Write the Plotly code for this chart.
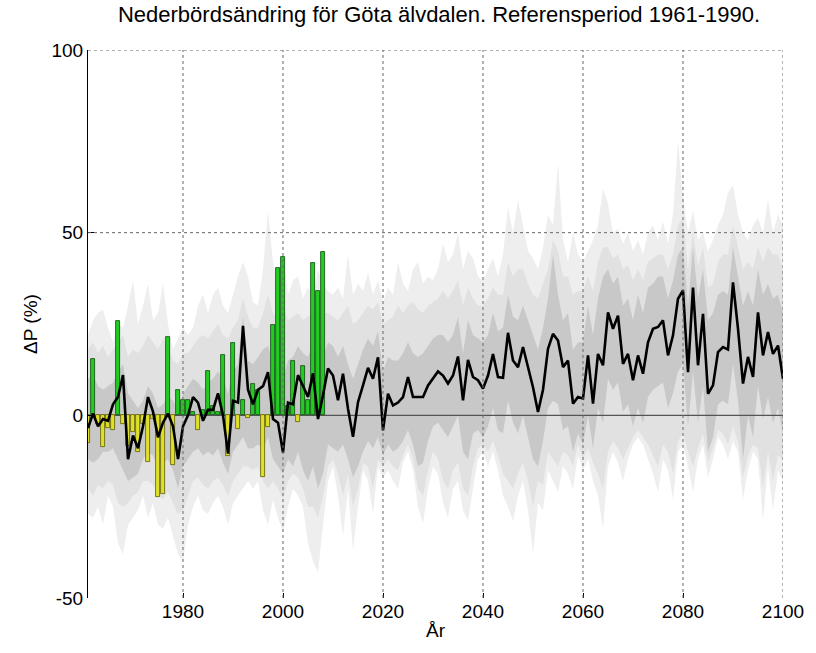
import plotly.graph_objects as go

# ---------------- data ----------------
years = list(range(1961, 2101))
obs_years = list(range(1961, 2009))

# observed annual precipitation change (%), bars
obs_change = [
    -7.5, 15.5, -2.5, -8.6, -3.6, -3.9, 25.7, -2.3, -8.5, -4.5,
    -10.0, -2.5, -12.7, -1.0, -22.3, -21.5, 21.4, -13.7, 6.8, 4.1,
    4.2, 1.0, -4.1, 1.5, 12.0, 2.5, 1.0, 16.6, -11.2, 19.8,
    -3.7, 4.1, -0.6, 8.7, 6.8, -16.8, -3.1, 24.8, 40.3, 43.4,
    2.5, 14.8, -1.9, 13.4, 4.1, 41.7, 34.0, 44.6,
]

# ensemble median (black line)
ens_median = [
    -3.5, 0.5, -3.0, -1.0, -1.5, 3.0, 5.0, 11.0, -12.0, -5.5,
    -9.0, -3.0, 5.0, 1.0, -6.0, -2.0, 0.5, -3.0, -12.0, -3.0,
    0.0, 5.0, 3.5, -1.5, 1.5, 1.5, 6.0, 0.0, -10.5, 4.0,
    3.5, 24.5, 7.0, 3.0, 7.0, 8.0, 11.8, -1.0, -2.0, -10.2,
    3.5, 3.0, 11.0, 8.0, 5.0, 11.5, -1.0, 5.5, 12.8, 10.9,
    4.1, 11.4, 1.8, -5.9, 3.6, 8.2, 13.0, 10.0, 15.9, -4.1,
    5.9, 2.7, 3.5, 5.0, 10.5, 5.0, 5.0, 5.0, 8.2, 10.0,
    12.0, 10.9, 8.7, 10.9, 16.1, 4.1, 15.2, 10.5, 9.6, 7.3,
    10.9, 16.8, 10.5, 10.3, 22.6, 15.0, 13.2, 18.7, 13.2, 7.7,
    0.9, 7.0, 18.2, 22.3, 20.5, 13.2, 15.0, 3.2, 5.0, 4.6,
    16.4, 3.2, 16.8, 13.7, 28.2, 23.7, 27.3, 14.1, 16.8, 9.6,
    16.4, 11.4, 20.0, 23.7, 24.2, 26.0, 16.4, 21.9, 31.9, 34.2,
    11.8, 35.0, 13.7, 27.8, 5.9, 8.2, 17.3, 18.7, 18.0, 36.4,
    23.7, 8.7, 16.0, 10.5, 28.2, 16.4, 22.8, 16.8, 19.1, 10.0,
]

# inner (darkest) band
inner_hi = [
    10, 11, 8, 7, 8, 9, 12, 14, 6, 4,
    2, 4, 8, 6, 2, 3, 5, 4, 2, 6,
    8, 10, 9, 7, 9, 10, 12, 10, 6, 12,
    14, 27, 15, 14, 16, 18, 19, 14, 13, 10,
    15, 16, 19, 17, 16, 20, 14, 16, 20, 19,
    16, 19, 14, 10, 14, 18, 21, 19, 23, 12,
    16, 15, 15, 17, 20, 17, 16, 17, 19, 21,
    22, 22, 20, 22, 27, 17, 26, 22, 21, 20,
    22, 28, 23, 24, 33, 27, 26, 30, 26, 22,
    18, 24, 32, 44, 33, 26, 28, 18, 20, 20,
    30, 22, 32, 38, 40, 36, 38, 30, 32, 26,
    33, 28, 35, 36, 38, 38, 32, 37, 44, 46,
    30, 46, 32, 40, 26, 28, 33, 34, 33, 46,
    38, 30, 34, 30, 40, 33, 36, 32, 33, 28,
]
inner_lo = [
    -12, -13, -12, -10, -10, -9, -12, -15, -18, -17,
    -16, -12, -10, -11, -14, -13, -12, -15, -20, -14,
    -12, -10, -9, -11, -10, -11, -9, -13, -16, -10,
    -8, -6, -9, -9, -8, -9, -6, -12, -14, -16,
    -12, -14, -10, -15, -18, -14, -20, -16, -8, -9,
    -10, -8, -12, -17, -14, -10, -7, -9, -6, -11,
    -8, -10, -9, -7, -4, -8, -14, -13, -7, -3,
    -2, -4, -6, -3, 0, -10, -12, -5, -4, -6,
    -3, 2, -4, -5, 4, -2, -5, 0, -6, -12,
    -14, -7, 2, 4, 3, -4, -3, -10, -5, -8,
    0, -9, 2, -2, 10, 7, 9, 1, 3, -3,
    2, -2, 5, 7, 8, 9, 2, 6, 12, 14,
    -3, 12, -2, 8, -10, -6, 3, 4, 3, 14,
    4, -12, 0, -6, 8, -1, 5, -2, 2, -5,
]

# middle band
mid_hi = [
    18, 20, 17, 19, 16, 18, 20, 22, 16, 18,
    17, 19, 22, 20, 18, 21, 19, 15, 14, 17,
    17, 19, 21, 22, 21, 23, 25, 22, 21, 24,
    26, 32, 27, 24, 24, 28, 33, 28, 26, 30,
    26, 27, 28, 26, 27, 28, 30, 28, 28, 27,
    26, 28, 30, 25, 26, 28, 30, 29, 31, 25,
    26, 27, 30, 28, 30, 31, 29, 28, 30, 31,
    32, 34, 32, 34, 37, 30, 35, 32, 30, 30,
    32, 35, 33, 33, 42, 38, 40, 40, 36, 33,
    32, 36, 40, 48, 45, 38, 38, 33, 34, 34,
    38, 34, 42, 46, 46, 43, 44, 40, 41, 37,
    40, 37, 42, 43, 44, 44, 40, 44, 52, 54,
    40, 50, 41, 46, 35, 36, 42, 44, 44, 52,
    46, 40, 42, 40, 46, 42, 46, 44, 44, 40,
]
mid_lo = [
    -20, -22, -19, -20, -18, -19, -24, -25, -24, -22,
    -21, -18, -18, -19, -22, -23, -21, -24, -27, -26,
    -22, -18, -17, -19, -20, -18, -17, -19, -22, -18,
    -16, -14, -14, -15, -14, -18, -20, -18, -20, -23,
    -18, -16, -17, -20, -25, -25, -28, -22, -14, -12,
    -16, -22, -16, -25, -20, -13, -14, -20, -12, -14,
    -12, -14, -15, -11, -8, -12, -20, -22, -15, -10,
    -12, -18, -20, -15, -13, -20, -22, -14, -9, -8,
    -10, -7, -11, -16, -18, -20, -16, -13, -18, -25,
    -18, -19, -10, -12, -14, -10, -11, -14, -8, -12,
    -9, -13, -16, -20, -10, -7, -9, -12, -9, -6,
    -4, -6, -8, -11, -14, -8, -10, -16, -7, -5,
    -10, -14, -9, -5, -13, -9, -4, -5, -8, -3,
    -7, -17, -11, -8, -9, -20, -10, -18, -11, -12,
]

# outer (lightest) band
outer_hi = [
    22, 26, 28, 29, 24, 20, 25, 24, 30, 37,
    25, 30, 36, 26, 28, 36, 25, 18, 21, 24,
    22, 24, 30, 33, 28, 33, 35, 30, 28, 33,
    38, 42, 38, 31, 30, 40, 56, 42, 35, 44,
    33, 37, 38, 32, 35, 33, 40, 36, 34, 33,
    35, 32, 44, 33, 36, 34, 39, 33, 37, 31,
    35, 33, 42, 36, 34, 40, 42, 36, 38, 37,
    40, 47, 42, 44, 50, 40, 45, 43, 38, 37,
    40, 43, 38, 44, 57, 50, 59, 52, 45, 43,
    40, 46, 55, 52, 69, 48, 42, 50, 44, 42,
    45, 48, 52, 62, 58, 50, 51, 47, 50, 45,
    48, 44, 50, 52, 48, 53, 47, 55, 75, 60,
    50, 56, 48, 50, 45, 48, 52, 55, 61, 63,
    55, 50, 48, 52, 54, 50, 59, 50, 55, 52,
]
outer_lo = [
    -27, -28, -25, -30, -22, -25, -35, -38, -30, -28,
    -26, -22, -28, -24, -30, -31, -28, -33, -38, -40,
    -30, -25, -22, -26, -27, -24, -22, -25, -30, -24,
    -22, -20, -18, -20, -18, -26, -30, -23, -28, -32,
    -25, -20, -22, -25, -35, -40, -43, -30, -18, -14,
    -22, -33, -20, -37, -25, -15, -18, -27, -14, -17,
    -15, -18, -20, -13, -10, -15, -25, -29.6, -20, -14,
    -16, -24, -28, -20, -18, -26, -28.7, -20, -12, -10,
    -14, -10, -15, -22, -25, -29, -22, -18, -26, -37.8,
    -24, -26, -15, -18, -21, -14, -16, -20, -11, -15,
    -12, -18, -22, -31, -14, -10, -13, -18, -12, -8,
    -6, -8, -12, -16, -21, -12, -15, -23, -10, -8,
    -14, -21, -12, -8, -17, -12, -6, -8, -12, -7,
    -10, -23, -15, -10, -12, -28.7, -14, -26, -15, -18,
]

x_ticks = [1980, 2000, 2020, 2040, 2060, 2080, 2100]
y_ticks = [-50, 0, 50, 100]
y_ticklabels = ["-50", "0", "50", "100"]

title_text = "Nederbördsändring för Göta älvdalen. Referensperiod 1961-1990."
x_title = "År"
y_title = "ΔP (%)"

# ---------------- figure ----------------
FONT = "Liberation Sans, Arial, sans-serif"
X_RANGE = [years[0], years[-1]]
Y_RANGE = [-50, 100]
fig = go.Figure()


def add_band(lo, hi, color):
    fig.add_trace(go.Scatter(x=years, y=lo, mode="lines",
                             line=dict(width=0, color=color),
                             hoverinfo="skip", showlegend=False))
    fig.add_trace(go.Scatter(x=years, y=hi, mode="lines",
                             line=dict(width=0, color=color),
                             fill="tonexty", fillcolor=color,
                             hoverinfo="skip", showlegend=False))


# bands on the base subplot (drawn underneath)
add_band(outer_lo, outer_hi, "#eeeeee")
add_band(mid_lo, mid_hi, "#e1e1e1")
add_band(inner_lo, inner_hi, "#c8c8c8")

# zero reference line
fig.add_trace(go.Scatter(x=[years[0], years[-1]], y=[0, 0], mode="lines",
                         line=dict(color="#555555", width=1.2),
                         hoverinfo="skip", showlegend=False))

# bars and median line on an overlaying subplot so they sit above the bands
bar_colors = ["#22cc22" if v >= 0 else "#e0e02a" for v in obs_change]
bar_lines = ["#0c4a0c" if v >= 0 else "#5c5c00" for v in obs_change]
fig.add_trace(go.Bar(x=obs_years, y=obs_change, width=0.85,
                     xaxis="x2", yaxis="y2",
                     marker=dict(color=bar_colors,
                                 line=dict(color=bar_lines, width=0.8)),
                     showlegend=False))

fig.add_trace(go.Scatter(x=years, y=ens_median, mode="lines",
                         xaxis="x2", yaxis="y2",
                         line=dict(color="black", width=2.6),
                         showlegend=False))

# dotted grid drawn above the bands
shapes = []
for xv in x_ticks:
    shapes.append(dict(type="line", xref="x", yref="paper", x0=xv, x1=xv,
                       y0=0, y1=1, layer="above",
                       line=dict(color="#666666", width=1, dash="dot")))
for yv in [50, 100]:
    shapes.append(dict(type="line", xref="paper", yref="y", x0=0, x1=1,
                       y0=yv, y1=yv, layer="above",
                       line=dict(color="#666666", width=1, dash="dot")))

fig.update_layout(
    width=816, height=653,
    margin=dict(l=88, r=23, t=50, b=55),
    paper_bgcolor="white", plot_bgcolor="white",
    font=dict(family=FONT, color="black", size=19),
    title=dict(text=title_text, x=0.538, xanchor="center", y=0.99,
               yanchor="top", font=dict(family=FONT, size=22)),
    bargap=0, shapes=shapes,
    xaxis=dict(range=X_RANGE, tickvals=x_ticks,
               showgrid=False, zeroline=False, showline=False,
               ticks="inside", ticklen=5, tickcolor="black",
               tickfont=dict(size=19),
               title=dict(text=x_title, font=dict(size=19), standoff=2)),
    yaxis=dict(range=Y_RANGE, tickvals=y_ticks, ticktext=y_ticklabels,
               showgrid=False, zeroline=False, showline=True,
               linecolor="black", linewidth=1,
               ticks="inside", ticklen=6, tickcolor="black",
               tickfont=dict(size=19),
               title=dict(text=y_title, font=dict(size=19), standoff=8)),
    xaxis2=dict(range=X_RANGE, overlaying="x", visible=False,
                showgrid=False, zeroline=False),
    yaxis2=dict(range=Y_RANGE, overlaying="y", visible=False,
                showgrid=False, zeroline=False),
)

fig.write_html("out.html")
